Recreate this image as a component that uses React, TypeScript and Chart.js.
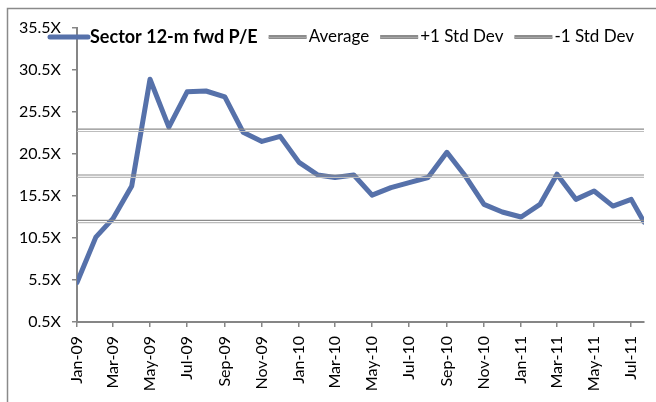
import React, { useEffect, useRef } from 'react';
import { Chart, registerables } from 'chart.js';

Chart.register(...registerables);

// ---- data ----
const seriesName = 'Sector 12-m fwd P/E';
const pointDates = [
  '2009-01-01', '2009-02-01', '2009-03-01', '2009-04-01', '2009-05-01', '2009-06-01',
  '2009-07-01', '2009-08-01', '2009-09-01', '2009-10-01', '2009-11-01', '2009-12-01',
  '2010-01-01', '2010-02-01', '2010-03-01', '2010-04-01', '2010-05-01', '2010-06-01',
  '2010-07-01', '2010-08-01', '2010-09-01', '2010-10-01', '2010-11-01', '2010-12-01',
  '2011-01-01', '2011-02-01', '2011-03-01', '2011-04-01', '2011-05-01', '2011-06-01',
  '2011-07-01', '2011-07-22',
];
const peValues = [
  5.2, 10.6, 12.8, 16.7, 29.4, 23.7, 27.9, 28.0, 27.3, 23.1, 22.0, 22.6,
  19.5, 18.0, 17.7, 18.0, 15.6, 16.5, 17.1, 17.7, 20.7, 17.9, 14.5, 13.6,
  13.0, 14.5, 18.1, 15.1, 16.1, 14.3, 15.1, 12.4,
];
const refLabels = ['Average', '+1 Std Dev', '-1 Std Dev'];
const refValues = [18.0, 23.45, 12.6];
const xTickLabels = [
  'Jan-09', 'Mar-09', 'May-09', 'Jul-09', 'Sep-09', 'Nov-09', 'Jan-10', 'Mar-10',
  'May-10', 'Jul-10', 'Sep-10', 'Nov-10', 'Jan-11', 'Mar-11', 'May-11', 'Jul-11',
];
const yMin = 0.5;
const yMax = 35.5;
const yStep = 5;

// ---- helpers ----
const MONTHS = ['Jan', 'Feb', 'Mar', 'Apr', 'May', 'Jun', 'Jul', 'Aug', 'Sep', 'Oct', 'Nov', 'Dec'];
const BASE = Date.UTC(2009, 0, 1);
const dayOf = (y: number, m: number, d: number) => (Date.UTC(y, m, d) - BASE) / 86400000;
const isoToDay = (s: string) => {
  const [y, m, d] = s.split('-').map(Number);
  return dayOf(y, m - 1, d);
};
const labelToDay = (l: string) => {
  const [m, y] = l.split('-');
  return dayOf(2000 + Number(y), MONTHS.indexOf(m), 1);
};

const FONT = "Lato, 'Open Sans', sans-serif";
const BLUE = '#5671AA';
const GRAY = '#8c8c8c';
const GRAY_LIGHT = '#bdbdbd';
const AXIS = '#868686';

const frame = {
  id: 'frame',
  beforeDraw(chart: any) {
    const ctx = chart.ctx;
    ctx.save();
    ctx.fillStyle = '#ffffff';
    ctx.fillRect(0, 0, chart.width, chart.height);
    ctx.strokeStyle = '#8a8a8a';
    ctx.lineWidth = 1.5;
    ctx.strokeRect(7.5, 8.5, chart.width + 20, chart.height + 20);
    ctx.restore();
  },
};

const doubleLine = {
  id: 'doubleLine',
  afterDatasetDraw(chart: any, args: any) {
    const ds = chart.data.datasets[args.index];
    if (!ds.secondColor) return;
    const pts = args.meta.data;
    const ctx = chart.ctx;
    ctx.save();
    ctx.strokeStyle = ds.secondColor;
    ctx.lineWidth = 1.2;
    ctx.beginPath();
    pts.forEach((p: any, i: number) => (i ? ctx.lineTo(p.x, p.y + 2.3) : ctx.moveTo(p.x, p.y + 2.3)));
    ctx.stroke();
    ctx.restore();
  },
};

const customLegend = {
  id: 'customLegend',
  afterDraw(chart: any) {
    const ctx = chart.ctx;
    ctx.save();
    let x = 50;
    const y = 37;
    const sample = 38;
    chart.data.datasets.forEach((ds: any, i: number) => {
      if (i === 0) {
        ctx.lineCap = 'round';
        ctx.strokeStyle = ds.borderColor;
        ctx.lineWidth = 5;
        ctx.beginPath();
        ctx.moveTo(x, y);
        ctx.lineTo(x + sample, y);
        ctx.stroke();
      } else {
        ctx.lineCap = 'butt';
        ctx.strokeStyle = GRAY;
        ctx.lineWidth = 4;
        ctx.beginPath();
        ctx.moveTo(x, y);
        ctx.lineTo(x + sample, y);
        ctx.stroke();
        ctx.strokeStyle = '#a8a8a8';
        ctx.lineWidth = 1;
        ctx.beginPath();
        ctx.moveTo(x, y + 0.5);
        ctx.lineTo(x + sample, y + 0.5);
        ctx.stroke();
      }
      x += sample + 2;
      ctx.font = i === 0 ? 'bold 18px ' + FONT : '17px ' + FONT;
      ctx.fillStyle = '#000';
      ctx.textBaseline = 'middle';
      ctx.textAlign = 'left';
      ctx.fillText(ds.label, x, y);
      x += ctx.measureText(ds.label).width + 11;
    });
    ctx.restore();
  },
};

export default function App() {
  const ref = useRef<HTMLCanvasElement>(null);
  useEffect(() => {
    document.body.style.margin = '0';
    const peData = pointDates.map((d, i) => ({ x: isoToDay(d), y: peValues[i] }));
    const first = isoToDay(pointDates[0]);
    const last = isoToDay(pointDates[pointDates.length - 1]);
    const refDatasets = refLabels.map((label, i) => ({
      label,
      data: [
        { x: first, y: refValues[i] },
        { x: last, y: refValues[i] },
      ],
      borderColor: GRAY,
      secondColor: GRAY_LIGHT,
      borderWidth: 1.2,
      pointRadius: 0,
      order: 0,
    }));
    const chart = new Chart(ref.current!, {
      type: 'line',
      data: {
        datasets: [
          {
            label: seriesName,
            data: peData,
            borderColor: BLUE,
            borderWidth: 5,
            borderJoinStyle: 'round',
            borderCapStyle: 'round',
            pointRadius: 0,
            tension: 0,
            order: 1,
          } as any,
          ...refDatasets,
        ],
      },
      options: {
        animation: false,
        responsive: false,
        devicePixelRatio: 1,
        layout: { padding: { left: 0, top: 28, right: 12, bottom: 0 } },
        plugins: { legend: { display: false }, tooltip: { enabled: false } },
        scales: {
          x: {
            type: 'linear',
            min: first,
            max: last,
            afterBuildTicks: (s: any) => {
              s.ticks = xTickLabels.map((l) => ({ value: labelToDay(l) }));
            },
            afterFit: (s: any) => {
              s.height = 80;
              s.paddingLeft = 0;
              s.paddingRight = 0;
            },
            grid: {
              display: true,
              drawOnChartArea: false,
              drawTicks: true,
              tickLength: 5,
              color: AXIS,
              lineWidth: 1.5,
            },
            border: { display: true, color: AXIS, width: 2 },
            ticks: {
              autoSkip: false,
              minRotation: 90,
              maxRotation: 90,
              padding: 9,
              color: '#000',
              font: { family: FONT, size: 16 },
              callback: (_v: any, i: number) => xTickLabels[i],
            },
          },
          y: {
            min: yMin,
            max: yMax,
            afterBuildTicks: (s: any) => {
              const t = [];
              for (let v = yMin; v <= yMax + 1e-9; v += yStep) t.push({ value: v });
              s.ticks = t;
            },
            afterFit: (s: any) => {
              s.width = 77;
              s.paddingTop = 0;
              s.paddingBottom = 0;
            },
            grid: {
              display: true,
              drawOnChartArea: false,
              drawTicks: true,
              tickLength: 5,
              color: AXIS,
              lineWidth: 1.5,
            },
            border: { display: true, color: AXIS, width: 2 },
            ticks: {
              padding: 11,
              color: '#000',
              font: { family: FONT, size: 16 },
              callback: (v: any) => Number(v).toFixed(1) + 'X',
            },
          },
        },
      },
      plugins: [frame, doubleLine, customLegend],
    } as any);
    return () => chart.destroy();
  }, []);
  return (
    <div style={{ width: 656, height: 402, position: 'relative', background: '#fff' }}>
      <canvas ref={ref} width={656} height={402} style={{ display: 'block', width: 656, height: 402 }} />
    </div>
  );
}
